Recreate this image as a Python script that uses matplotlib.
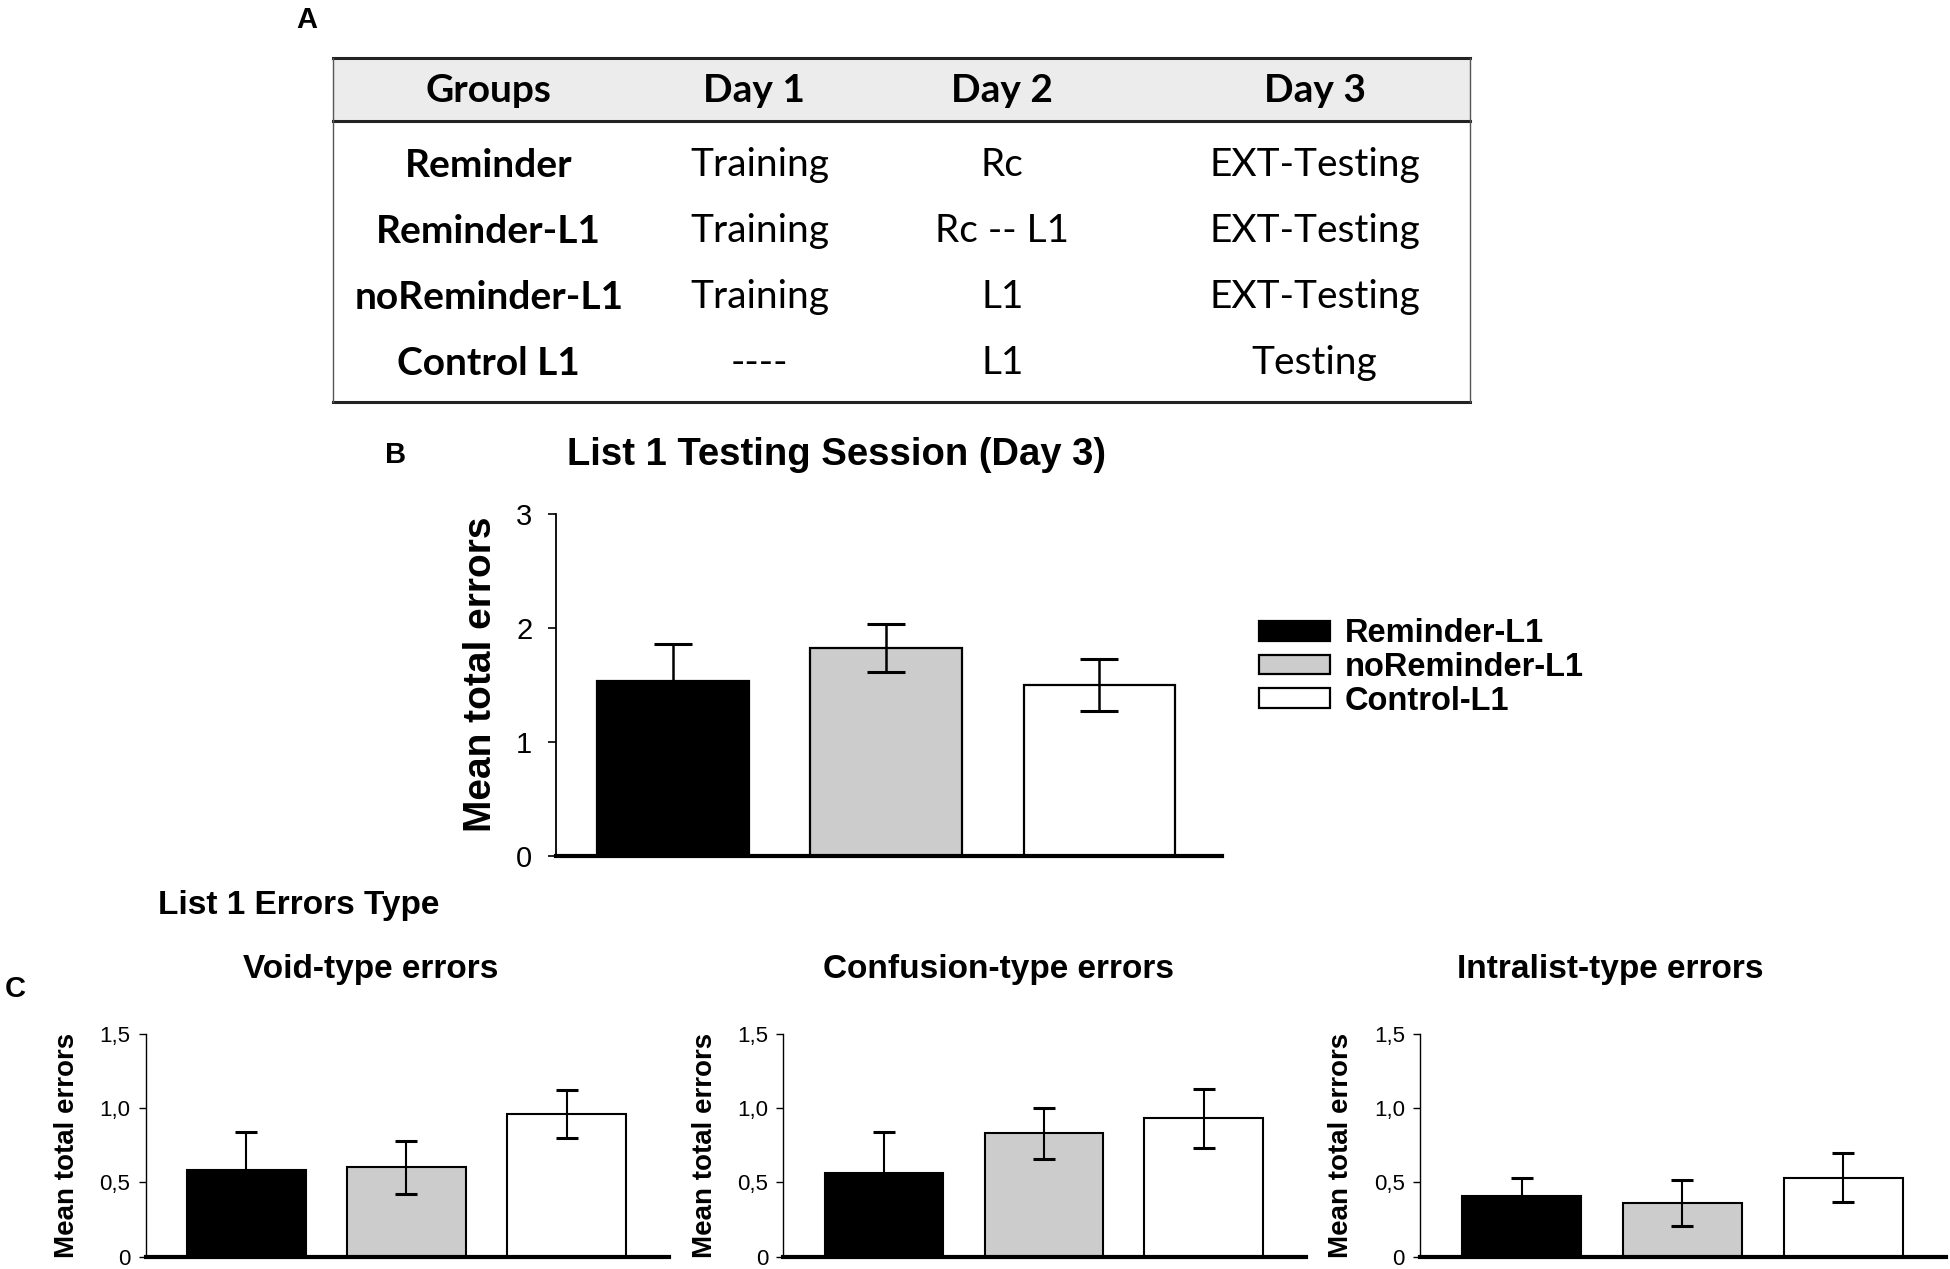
import numpy as np
import matplotlib
matplotlib.use("Agg")
import matplotlib.pyplot as plt
from matplotlib.patches import Rectangle, Patch
from matplotlib.lines import Line2D

plt.rcParams['font.family'] = ['Liberation Sans', 'DejaVu Sans']

# ---- data ----
# panel A table
table_header = ['Groups', 'Day 1', 'Day 2', 'Day 3']
groups = ['Reminder', 'Reminder-L1', 'noReminder-L1', 'Control L1']
day1 = ['Training', 'Training', 'Training', '----']
day2 = ['Rc', 'Rc -- L1', 'L1', 'L1']
day3 = ['EXT-Testing', 'EXT-Testing', 'EXT-Testing', 'Testing']

# panel B
series_names = ['Reminder-L1', 'noReminder-L1', 'Control-L1']
total_mean = [1.53, 1.82, 1.50]
total_sem = [0.33, 0.21, 0.23]

# panel C
error_types = ['Void-type errors', 'Confusion-type errors', 'Intralist-type errors']
type_mean = [[0.58, 0.60, 0.96],
             [0.56, 0.83, 0.93],
             [0.41, 0.36, 0.53]]
type_sem = [[0.26, 0.18, 0.16],
            [0.28, 0.17, 0.20],
            [0.12, 0.155, 0.165]]
c_ticks = [0, 0.5, 1.0, 1.5]
c_ticklabels = ['0', '0,5', '1,0', '1,5']

bar_colors = ['black', '#cccccc', 'white']

W, H = 1568.0, 1020.0  # layout measured on a 1568x1020 grid


def fx(x):
    return x / W


def fy(y):
    return 1 - y / H


fig = plt.figure(figsize=(19.5, 12.69), dpi=100)

# ---- panel A: table ----
fig.text(fx(247), fy(16), 'A', fontsize=21, fontweight='bold', ha='center', va='center')
tx0, tx1, ty0, ty1, thead = fx(268), fx(1182), fy(47), fy(323), fy(97)
fig.patches.append(Rectangle((tx0, thead), tx1 - tx0, ty0 - thead, transform=fig.transFigure,
                             facecolor='#ececec', edgecolor='none', zorder=0))
fig.add_artist(Line2D([tx0, tx1], [ty0, ty0], color='#222222', lw=2.2))
fig.add_artist(Line2D([tx0, tx1], [ty1, ty1], color='#222222', lw=2.2))
fig.add_artist(Line2D([tx0, tx1], [thead, thead], color='#222222', lw=2.2))
fig.add_artist(Line2D([tx0, tx0], [ty1, ty0], color='#555555', lw=1.0))
fig.add_artist(Line2D([tx1, tx1], [ty1, ty0], color='#555555', lw=1.0))

col_x = [fx(393), fx(606), fx(806), fx(1057)]
tfont = ['Lato', 'DejaVu Sans']
tsize = 28
for cx, txt in zip(col_x, table_header):
    fig.text(cx, fy(73), txt, fontsize=tsize, fontweight='bold', family=tfont, ha='center', va='center')
row_y = [fy(133), fy(186), fy(239), fy(292)]
for i, ry in enumerate(row_y):
    fig.text(col_x[0], ry, groups[i], fontsize=tsize, fontweight='bold', family=tfont, ha='center', va='center')
    fig.text(fx(611), ry, day1[i], fontsize=tsize, family=tfont, ha='center', va='center')
    fig.text(col_x[2], ry, day2[i], fontsize=tsize, family=tfont, ha='center', va='center')
    fig.text(col_x[3], ry, day3[i], fontsize=tsize, family=tfont, ha='center', va='center')

# ---- panel B ----
fig.text(fx(318), fy(366), 'B', fontsize=21, fontweight='bold', ha='center', va='center')
fig.text(fx(673), fy(366), 'List 1 Testing Session (Day 3)', fontsize=27.5, fontweight='bold',
         ha='center', va='center')

axb = fig.add_axes([fx(447), fy(688), fx(983) - fx(447), fy(413) - fy(688)])
x = np.arange(3)
for i in range(3):
    axb.bar(x[i], total_mean[i], width=0.71, color=bar_colors[i], edgecolor='black', linewidth=1.6,
            label=series_names[i], zorder=2)
axb.errorbar(x, total_mean, yerr=total_sem, fmt='none', ecolor='black', elinewidth=1.8,
             capsize=14, capthick=2.2, zorder=3)
axb.set_xlim(-0.548, 2.577)
axb.set_ylim(0, 3)
axb.set_yticks([0, 1, 2, 3])
axb.set_xticks([])
axb.tick_params(axis='y', labelsize=21, length=6, width=1.2, pad=11)
axb.set_ylabel('Mean total errors', fontsize=28, fontweight='bold', labelpad=12)
axb.yaxis.label.set_y(0.53)
axb.spines[['top', 'right']].set_visible(False)
axb.spines['left'].set_linewidth(1.3)
axb.spines['bottom'].set_linewidth(3)

handles = [Patch(facecolor=c, edgecolor='black', linewidth=1.6) for c in bar_colors]
fig.legend(handles, series_names, loc='upper left', bbox_to_anchor=(fx(1012), fy(497)),
           frameon=False, handlelength=2.2, handleheight=0.55,
           labelspacing=0.08, handletextpad=0.45, borderpad=0, borderaxespad=0,
           prop={'weight': 'bold', 'size': 23.5})

# ---- panel C ----
fig.text(fx(127), fy(728), 'List 1 Errors Type', fontsize=24, fontweight='bold', ha='left', va='center')
fig.text(fx(12), fy(795), 'C', fontsize=21, fontweight='bold', ha='center', va='center')

c_left = [117, 630, 1142]
c_right = [538, 1050, 1565]
c_title_x = [298, 803, 1295]
for k in range(3):
    ax = fig.add_axes([fx(c_left[k]), fy(1010), fx(c_right[k]) - fx(c_left[k]), fy(831) - fy(1010)])
    for i in range(3):
        ax.bar(x[i], type_mean[k][i], width=0.74, color=bar_colors[i], edgecolor='black',
               linewidth=1.5, zorder=2)
    ax.errorbar(x, type_mean[k], yerr=type_sem[k], fmt='none', ecolor='black', elinewidth=1.5,
                capsize=8, capthick=2.2, zorder=3)
    ax.set_xlim(-0.63, 2.64)
    ax.set_ylim(0, 1.5)
    ax.set_yticks(c_ticks)
    ax.set_yticklabels(c_ticklabels)
    ax.set_xticks([])
    ax.tick_params(axis='y', labelsize=16, length=5, width=1.0, pad=6)
    ax.set_ylabel('Mean total errors', fontsize=20, fontweight='bold', labelpad=14)
    ax.spines[['top', 'right']].set_visible(False)
    ax.spines['left'].set_linewidth(1.0)
    ax.spines['bottom'].set_linewidth(3)
    fig.text(fx(c_title_x[k]), fy(779), error_types[k], fontsize=24, fontweight='bold',
             ha='center', va='center')

fig.savefig('out.png', dpi=100)
